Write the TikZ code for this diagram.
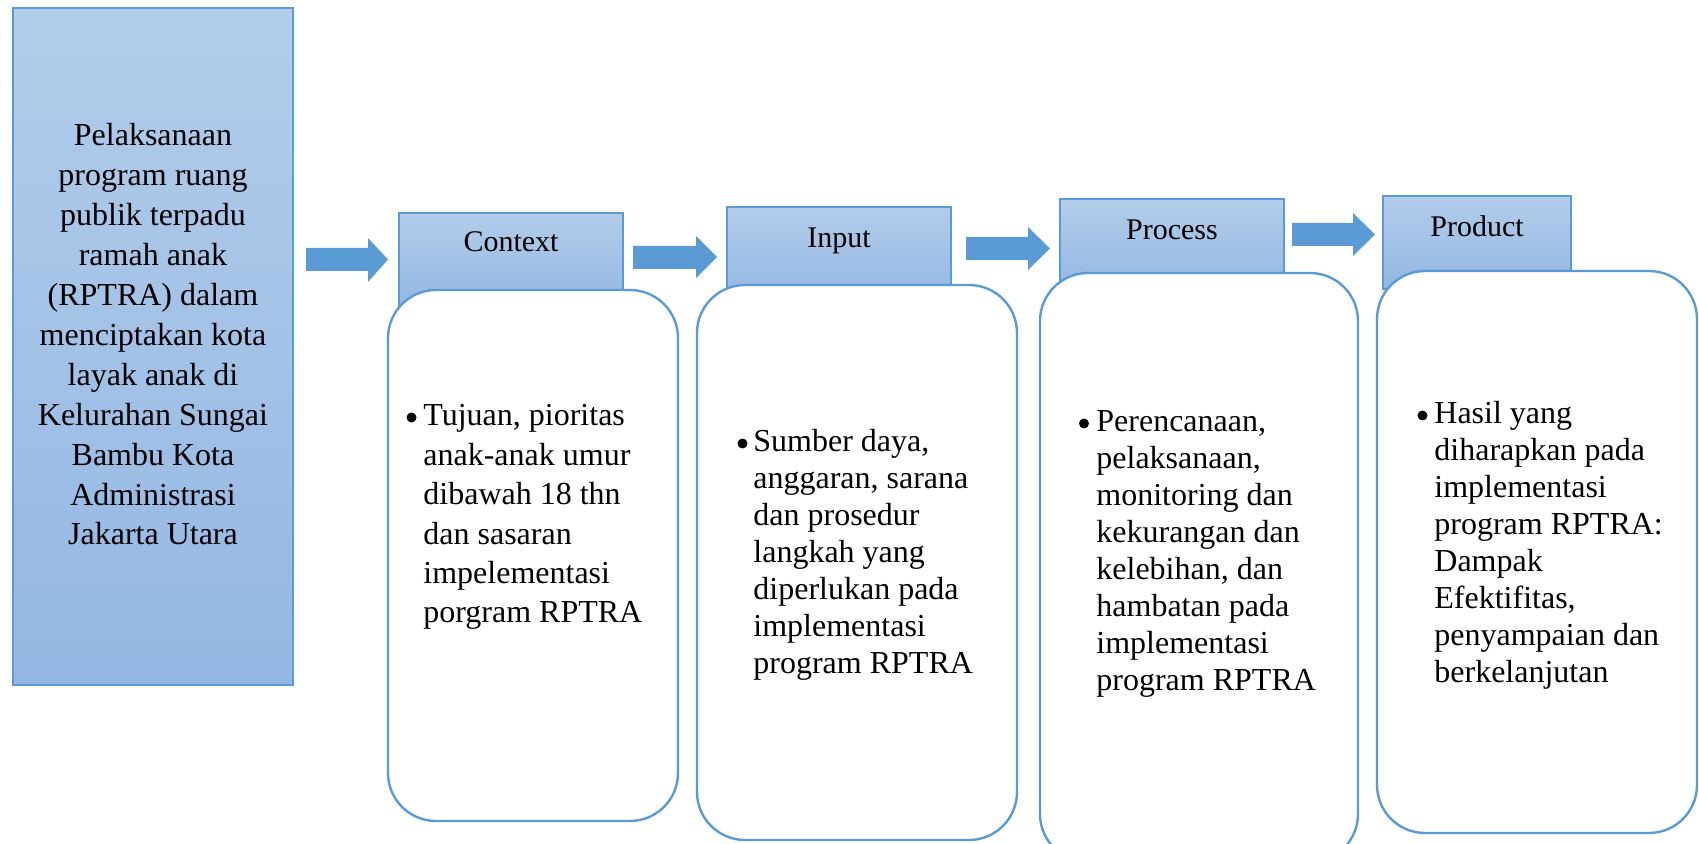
\documentclass[tikz,border=0pt]{standalone}
\usepackage{fontspec}
\setmainfont{Liberation Serif}
\definecolor{acc}{RGB}{91,155,213}
\definecolor{gtop}{RGB}{179,205,234}
\definecolor{gbot}{RGB}{147,183,227}
\begin{document}
\begin{tikzpicture}[x=0.5pt,y=-0.5pt,
  gradbox/.style={rectangle, draw=acc, line width=0.75pt, top color=gtop, bottom color=gbot, inner sep=0pt},
  roundbox/.style={rectangle, draw=acc, line width=1.2pt, fill=white, rounded corners=24pt, inner sep=0pt},
  blockarrow/.style={fill=acc},
  bodytext/.style={inner sep=0pt, font=\fontsize{16}{19.7}\selectfont},
  headtext/.style={inner sep=0pt, anchor=base, font=\fontsize{15}{17}\selectfont},
  bulletmark/.style={circle, fill=black, inner sep=0pt, minimum size=5pt}]
\useasboundingbox (0,0) rectangle (1699,844);
\fill[white] (0,0) rectangle (1699,844);
\clip (0,0) rectangle (1699,844);

% left box
\node[gradbox, minimum width=140pt, minimum height=338.5pt] (main) at (153,346.5) {};
\node[bodytext, anchor=base, font=\fontsize{16}{19.95}\selectfont] (maintext) at (153,146)
 {\begin{tabular}[t]{@{}c@{}}Pelaksanaan\\program ruang\\publik terpadu\\ramah anak\\(RPTRA) dalam\\menciptakan kota\\layak anak di\\Kelurahan Sungai\\Bambu Kota\\Administrasi\\Jakarta Utara\end{tabular}};

% headers
\node[gradbox, minimum width=112pt, minimum height=46.5pt] (hC) at (511,259.5) {};
\node[gradbox, minimum width=112pt, minimum height=46.5pt] (hI) at (839,253.5) {};
\node[gradbox, minimum width=112pt, minimum height=46.5pt] (hP) at (1172,245.5) {};
\node[gradbox, minimum width=94pt, minimum height=46.5pt] (hR) at (1477,242.5) {};

% rounded boxes
\node[roundbox, minimum width=145pt, minimum height=265.5pt] (bC) at (533,555.5) {};
\node[roundbox, minimum width=160pt, minimum height=277.5pt] (bI) at (857,562.5) {};
\node[roundbox, minimum width=159pt, minimum height=294.5pt] (bP) at (1199,567.5) {};
\node[roundbox, minimum width=160pt, minimum height=281pt] (bR) at (1537,552) {};

% block arrows
\fill[blockarrow] (306,248) -- (368,248) -- (368,238) -- (388,259.5) -- (368,282) -- (368,271) -- (306,271) -- cycle;
\fill[blockarrow] (633,246) -- (696,246) -- (696,236) -- (717,257) -- (696,278) -- (696,269) -- (633,269) -- cycle;
\fill[blockarrow] (966,237) -- (1028,237) -- (1028,227) -- (1050,248.5) -- (1028,270) -- (1028,260) -- (966,260) -- cycle;
\fill[blockarrow] (1292,223) -- (1353,223) -- (1353,213) -- (1375,234.5) -- (1353,256) -- (1353,246) -- (1292,246) -- cycle;

% header labels
\node[headtext] (lC) at (511,252) {Context};
\node[headtext] (lI) at (839,248) {Input};
\node[headtext] (lP) at (1172,240) {Process};
\node[headtext] (lR) at (1477,237) {Product};

% body texts
\node[bulletmark] (dC) at (411.5,417.5) {};
\node[bodytext, anchor=base west, font=\fontsize{16}{19.7}\selectfont] (tC) at (423,426)
 {\begin{tabular}[t]{@{}l@{}}Tujuan, pioritas\\anak-anak umur\\dibawah 18 thn\\dan sasaran\\impelementasi\\porgram RPTRA\end{tabular}};

\node[bulletmark] (dI) at (742.5,443.5) {};
\node[bodytext, anchor=base west, font=\fontsize{16}{18.5}\selectfont] (tI) at (753,452)
 {\begin{tabular}[t]{@{}l@{}}Sumber daya,\\anggaran, sarana\\dan prosedur\\langkah yang\\diperlukan pada\\implementasi\\program RPTRA\end{tabular}};

\node[bulletmark] (dP) at (1084,423.5) {};
\node[bodytext, anchor=base west, font=\fontsize{16}{18.5}\selectfont] (tP) at (1096,432)
 {\begin{tabular}[t]{@{}l@{}}Perencanaan,\\pelaksanaan,\\monitoring dan\\kekurangan dan\\kelebihan, dan\\hambatan pada\\implementasi\\program RPTRA\end{tabular}};

\node[bulletmark] (dR) at (1422.5,415.5) {};
\node[bodytext, anchor=base west, font=\fontsize{16}{18.5}\selectfont] (tR) at (1434,424)
 {\begin{tabular}[t]{@{}l@{}}Hasil yang\\diharapkan pada\\implementasi\\program RPTRA:\\Dampak\\Efektifitas,\\penyampaian dan\\berkelanjutan\end{tabular}};
\end{tikzpicture}
\end{document}
